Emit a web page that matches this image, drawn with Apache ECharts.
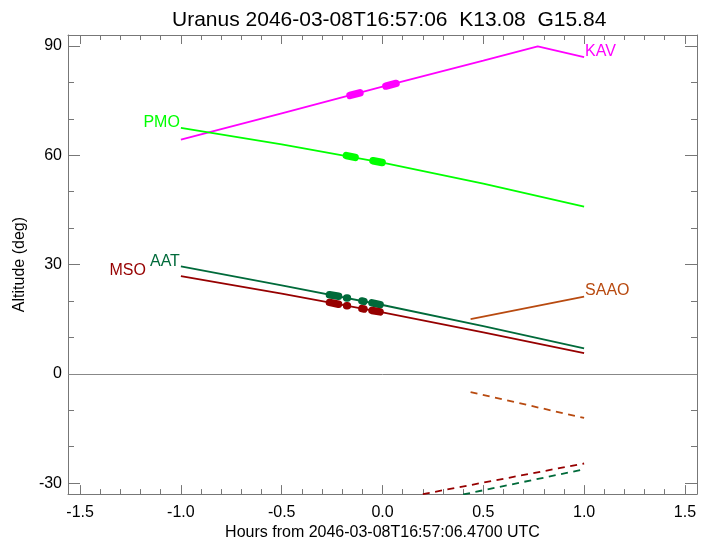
<!DOCTYPE html>
<html><head><meta charset="utf-8">
<script src="https://cdn.jsdelivr.net/npm/echarts@6/dist/echarts.min.js"></script>
<style>html,body{margin:0;padding:0;background:#fff}#c{width:710px;height:546px}</style>
</head><body><div id="c"></div>
<script>
// ---- text ----
const titleText = 'Uranus 2046-03-08T16:57:06  K13.08  G15.84';
const xTitle = 'Hours from 2046-03-08T16:57:06.4700 UTC';
const yTitle = 'Altitude (deg)';
// ---- axes ----
const xRange = [-1.56, 1.56];
const yRange = [-33, 93];
const xMajor = 0.5, xMinorSplit = 5;
const yMajor = 30, yMinorSplit = 3;
// ---- site names / colours ----
const siteNames = ['KAV', 'PMO', 'AAT', 'MSO', 'SAAO'];
const siteColors = ['#ff00ff', '#00ff00', '#006a3a', '#960000', '#b84a10'];
// ---- object altitude (solid) ----
const kavHours = [-1.0, -0.5, 0.0, 0.5, 0.77, 1.0];
const kavAlt   = [64.3, 71.5, 78.8, 86.0, 89.9, 86.9];
const pmoHours = [-1.0, -0.5, 0.0, 0.5, 1.0];
const pmoAlt   = [67.5, 63.0, 58.0, 52.2, 45.9];
const aatHours = [-1.0, -0.5, 0.0, 0.5, 1.0];
const aatAlt   = [29.5, 24.3, 18.9, 13.1, 7.0];
const msoHours = [-1.0, -0.5, 0.0, 0.5, 1.0];
const msoAlt   = [26.8, 22.0, 16.9, 11.4, 5.7];
const saaoHours = [0.437, 1.0];
const saaoAlt   = [15.0, 21.2];
// ---- observation stretches (thick), null = gap ----
const kavObsHours = [-0.161, -0.112, null, 0.017, 0.067];
const kavObsAlt   = [76.4, 77.1, null, 79.0, 79.7];
const pmoObsHours = [-0.179, -0.136, null, -0.047, -0.002];
const pmoObsAlt   = [59.9, 59.4, null, 58.5, 58.0];
const aatObsHours = [-0.263, -0.218, null, -0.178, -0.174, null, -0.102, -0.092, null, -0.052, -0.012];
const aatObsAlt   = [21.7, 21.3, null, 20.8, 20.8, null, 20.0, 19.9, null, 19.5, 19.0];
const msoObsHours = [-0.263, -0.218, null, -0.178, -0.174, null, -0.102, -0.092, null, -0.052, -0.012];
const msoObsAlt   = [19.6, 19.1, null, 18.7, 18.7, null, 17.9, 17.8, null, 17.4, 17.0];
// ---- sun altitude (dashed) ----
const saaoSunHours = [0.437, 1.0];
const saaoSunAlt   = [-5.0, -12.1];
const msoSunHours  = [0.20, 1.0];
const msoSunAlt    = [-33.0, -24.6];
const aatSunHours  = [0.40, 1.0];
const aatSunAlt    = [-33.1, -26.2];

const FONT = '"Liberation Sans", Arial, Helvetica, sans-serif';
const AX = '#777';
const FS = 16;

function pairs(h, a) {
  return h.map((v, i) => (v === null ? null : [v, a[i]]));
}

function solid(idx, h, a, labelIdx, pos, offset) {
  const data = pairs(h, a).map((p, i) => {
    if (i !== labelIdx) return { value: p, symbolSize: 0 };
    return {
      value: p, symbolSize: 0.01,
      label: {
        show: true, formatter: siteNames[idx], position: pos, distance: 1,
        offset: offset, color: siteColors[idx], fontSize: FS, fontFamily: FONT
      }
    };
  });
  return {
    type: 'line', data: data, symbol: 'circle', showSymbol: true, symbolSize: 0,
    itemStyle: { color: siteColors[idx] },
    lineStyle: { color: siteColors[idx], width: 1.8 }, z: 3, silent: true
  };
}
function obs(idx, h, a) {
  return {
    type: 'line', data: pairs(h, a), symbol: 'none', connectNulls: false,
    lineStyle: { color: siteColors[idx], width: 7.5, cap: 'round' }, z: 4, silent: true
  };
}
function sun(idx, h, a) {
  return {
    type: 'line', data: pairs(h, a), symbol: 'none', clip: true,
    lineStyle: { color: siteColors[idx], width: 1.8, type: [7, 5.5] }, z: 3, silent: true
  };
}

function xAxis(pos, labels) {
  return {
    type: 'value', position: pos, min: xRange[0], max: xRange[1],
    minInterval: xMajor, maxInterval: xMajor,
    name: labels ? xTitle : '', nameLocation: 'middle', nameGap: 26,
    nameTextStyle: { fontSize: FS, color: '#000', fontFamily: FONT },
    axisLine: { show: true, onZero: false, lineStyle: { color: AX, width: 1 } },
    axisTick: { show: true, inside: true, length: 9, lineStyle: { color: AX } },
    minorTick: { show: true, splitNumber: xMinorSplit, length: 5, lineStyle: { color: AX } },
    splitLine: { show: false }, minorSplitLine: { show: false },
    axisLabel: {
      show: labels, margin: 10, fontSize: FS, color: '#000', fontFamily: FONT,
      formatter: v => (Math.abs(v / xMajor - Math.round(v / xMajor)) < 1e-6 ? v.toFixed(1) : '')
    }
  };
}
function yAxis(pos, labels) {
  return {
    type: 'value', position: pos, min: yRange[0], max: yRange[1],
    minInterval: yMajor, maxInterval: yMajor,
    name: labels ? yTitle : '', nameLocation: 'middle', nameGap: 38, nameRotate: 90,
    nameTextStyle: { fontSize: FS, color: '#000', fontFamily: FONT },
    axisLine: { show: true, onZero: false, lineStyle: { color: AX, width: 1 } },
    axisTick: { show: true, inside: true, length: 12, lineStyle: { color: AX } },
    minorTick: { show: true, splitNumber: yMinorSplit, length: 6, lineStyle: { color: AX } },
    splitLine: { show: false }, minorSplitLine: { show: false },
    axisLabel: {
      show: labels, margin: 6, fontSize: FS, color: '#000', fontFamily: FONT,
      formatter: v => (Math.abs(v / yMajor - Math.round(v / yMajor)) < 1e-6 ? String(Math.round(v)) : '')
    }
  };
}

const series = [
  solid(0, kavHours, kavAlt, kavHours.length - 1, 'right', [0, -6]),
  solid(1, pmoHours, pmoAlt, 0, 'left', [0, -5]),
  solid(2, aatHours, aatAlt, 0, 'left', [0, -5]),
  solid(3, msoHours, msoAlt, 0, 'left', [-34, -6]),
  solid(4, saaoHours, saaoAlt, saaoHours.length - 1, 'right', [0, -6]),
  obs(0, kavObsHours, kavObsAlt),
  obs(1, pmoObsHours, pmoObsAlt),
  obs(2, aatObsHours, aatObsAlt),
  obs(3, msoObsHours, msoObsAlt),
  sun(4, saaoSunHours, saaoSunAlt),
  sun(3, msoSunHours, msoSunAlt),
  sun(2, aatSunHours, aatSunAlt)
];
series[0].markLine = {
  silent: true, symbol: 'none', label: { show: false }, animation: false,
  lineStyle: { color: '#888', type: 'solid', width: 1 },
  data: [{ yAxis: 0 }]
};

const chart = echarts.init(document.getElementById('c'), null, { renderer: 'canvas' });
chart.setOption({
  animation: false,
  backgroundColor: '#fff',
  title: {
    text: titleText, left: 167, top: 5,
    textStyle: { fontSize: 21, fontWeight: 'normal', color: '#000', fontFamily: FONT }
  },
  grid: { left: 68, right: 13, top: 35, bottom: 43, containLabel: false },
  xAxis: [xAxis('bottom', true), xAxis('top', false)],
  yAxis: [yAxis('left', true), yAxis('right', false)],
  series: series
});
</script></body></html>
